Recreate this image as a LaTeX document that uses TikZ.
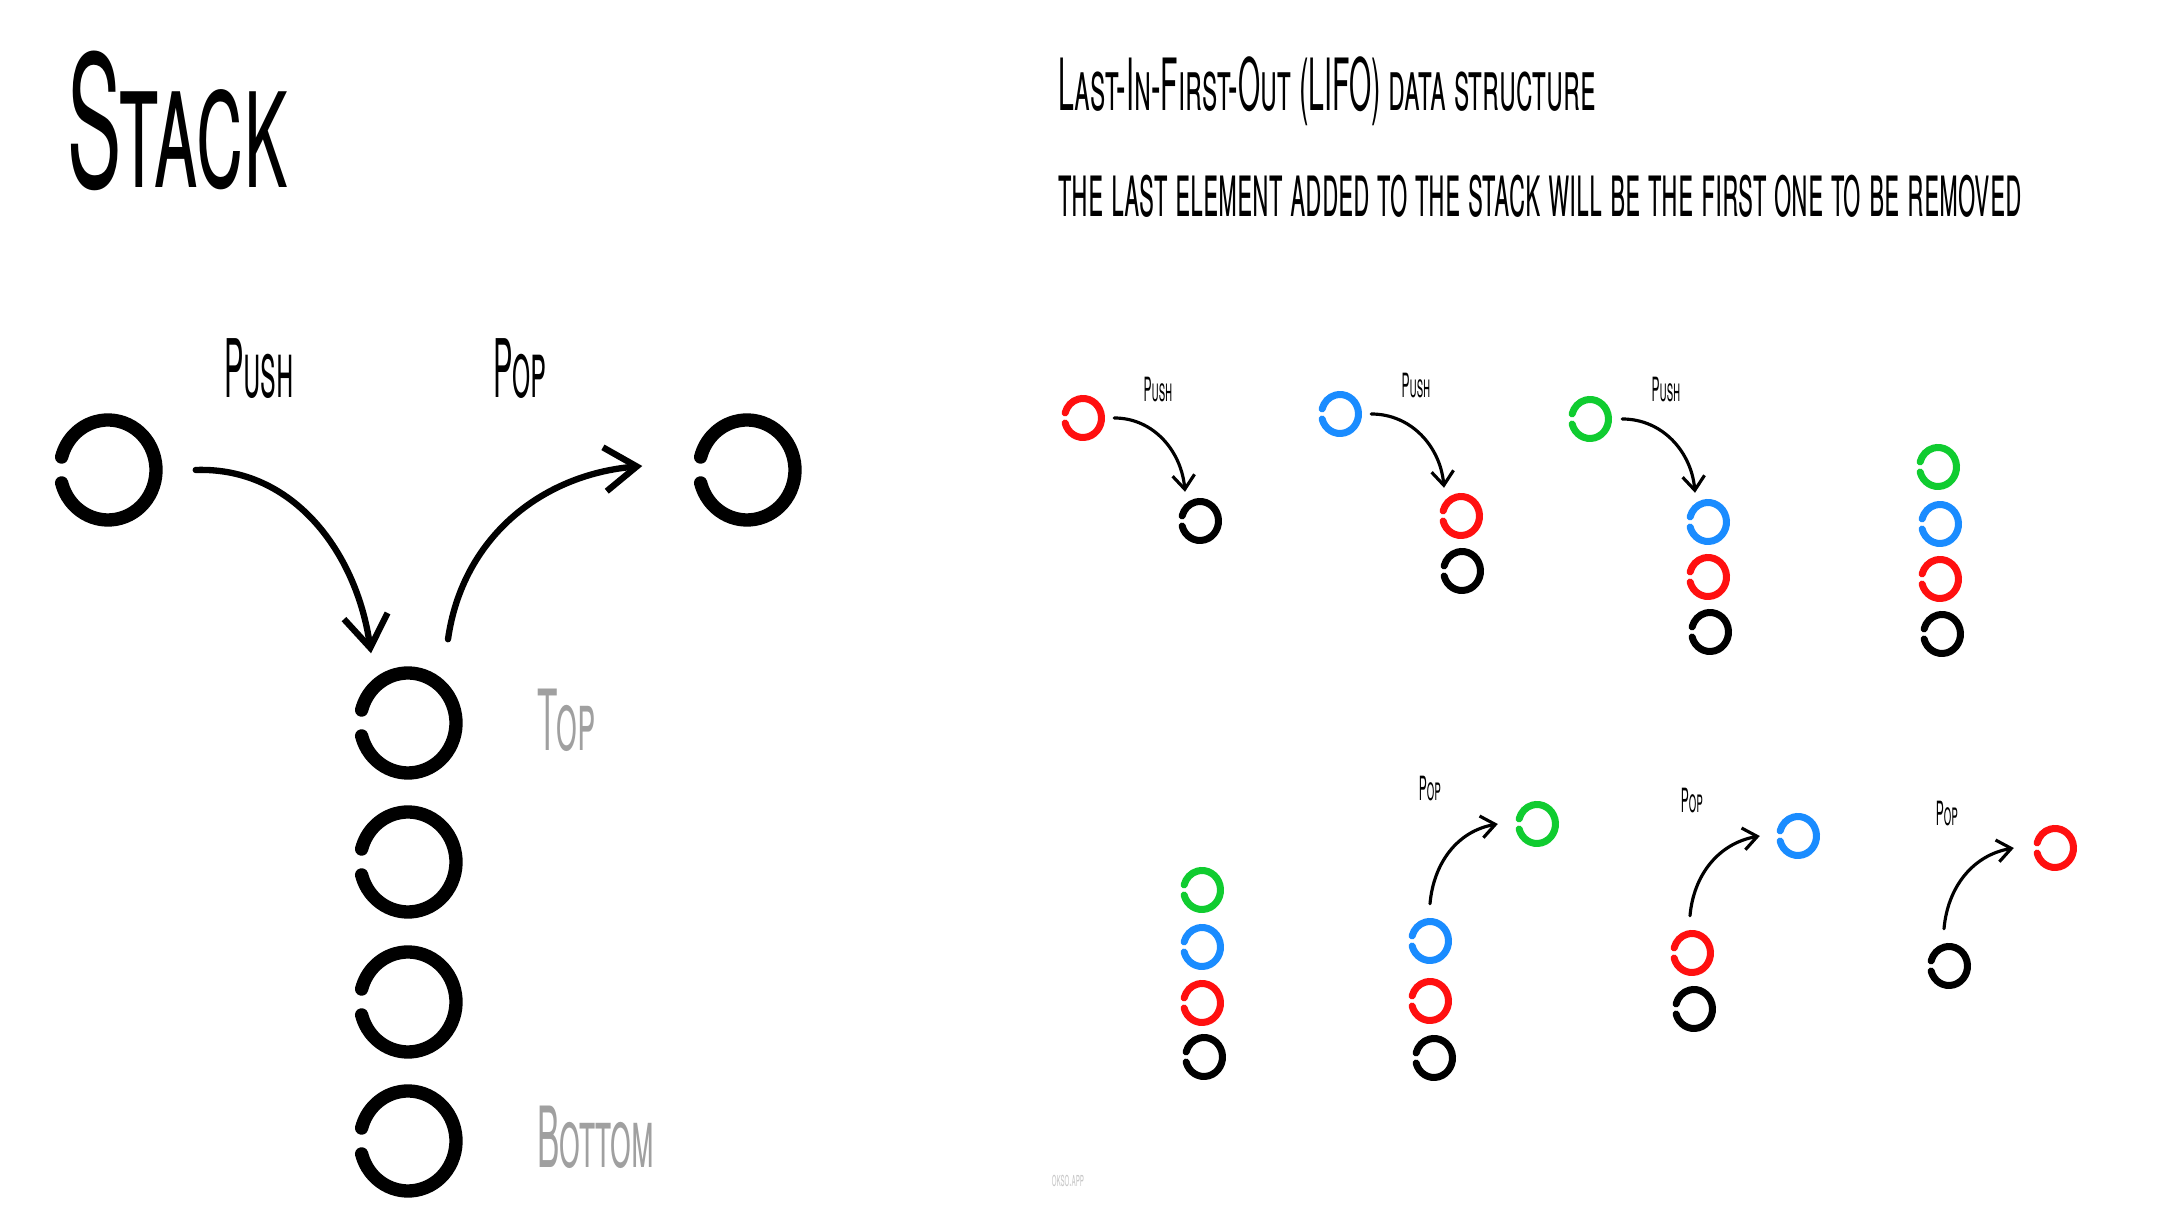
\documentclass[tikz,border=0pt]{standalone}
\usepackage{fontspec}
\setmainfont{TeX Gyre Heros}[FakeStretch=0.36]
\newfontfamily\titlefont{TeX Gyre Heros}[FakeStretch=0.445]
\newfontfamily\headfont{TeX Gyre Heros}[FakeStretch=0.395]
\usepackage{tikz}
\usetikzlibrary{arrows.meta,calc,positioning}
\definecolor{Ink}{HTML}{000000}
\definecolor{Red}{HTML}{FF1010}
\definecolor{Blue}{HTML}{1A8CFF}
\definecolor{Green}{HTML}{10CC30}
\definecolor{Ash}{HTML}{A0A0A0}
\definecolor{Fog}{HTML}{C8C8C8}

\tikzset{
  bigring/.style={inner sep=0pt,minimum width=0.96cm,minimum height=1.0cm,
    append after command={\pgfextra{\draw[Ink,line width=3.8pt,line cap=round]
      (\tikzlastnode.center) ++(195:0.48cm and 0.50cm)
      arc[start angle=195,end angle=525,x radius=0.48cm,y radius=0.50cm];}}},
  ring/.style={inner sep=0pt,minimum width=0.37cm,minimum height=0.39cm,
    append after command={\pgfextra{\draw[#1,line width=2pt,line cap=round]
      (\tikzlastnode.center) ++(195:0.185cm and 0.195cm)
      arc[start angle=195,end angle=525,x radius=0.185cm,y radius=0.195cm];}}},
  ring/.default=Ink,
  bigarrow/.style={line width=1.8pt,line cap=round,-{Straight Barb[length=3.2mm,width=4.4mm]}},
  arrow/.style={line width=0.9pt,line cap=round,-{Straight Barb[length=1.4mm,width=2.2mm]}},
  biglabel/.style={anchor=center,font=\fontsize{23}{27}\selectfont\scshape},
  graylabel/.style={anchor=base west,text=Ash,font=\headfont\fontsize{24}{28}\selectfont\scshape},
  smalllabel/.style={anchor=center,font=\fontsize{9.5}{11}\selectfont\scshape},
}

\begin{document}
\begin{tikzpicture}[x=1cm,y=1cm]
    \useasboundingbox (0,0) rectangle (21.81,12.18);
    \fill[white] (0,0) rectangle (21.81,12.18);

    % left: the idea
    \node[anchor=base west,font=\titlefont\fontsize{52}{60}\selectfont\scshape] (title) at (0.55,10.30) {Stack};
    \node[bigring] (src) at (1.08,7.48) {};
    \node[bigring] (out) at (7.47,7.48) {};
    \node[bigring] (s1) at (4.08,4.95) {};
    \node[bigring] (s2) at (4.08,3.56) {};
    \node[bigring] (s3) at (4.08,2.16) {};
    \node[bigring] (s4) at (4.08,0.77) {};
    \node[biglabel] (pushlbl) at (2.59,8.49) {Push};
    \node[biglabel] (poplbl) at (5.20,8.49) {Pop};
    \node[graylabel] (toplbl) at (5.25,4.67) {Top};
    \node[graylabel] (botlbl) at (5.25,0.50) {Bottom};
    \draw[bigarrow] ([xshift=3.9mm]src.east) to[out=2,in=98] ([xshift=-3.7mm,yshift=1.9mm]s1.north);
    \draw[bigarrow] ([xshift=4mm,yshift=3.3mm]s1.north) to[out=82,in=185] ([xshift=-5.6mm,yshift=0.4mm]out.west);

    % right: headings
    \node[anchor=base west,font=\headfont\fontsize{20.5}{24}\selectfont\scshape] (lifo) at (10.46,11.07) {Last-In-First-Out (LIFO) data structure};
    \node[anchor=base west,font=\fontsize{22}{26}\selectfont\scshape] (rule) at (10.46,10.01) {the last element added to the stack will be the first one to be removed};

    % push steps
    \node[ring=Red] (a1) at (10.83,8.00) {};
    \node[ring] (a0) at (12.00,6.97) {};
    \node[smalllabel] (apush) at (11.58,8.28) {Push};
    \draw[arrow] ([xshift=1.2mm]a1.east) to[out=0,in=95] ([xshift=-1.5mm,yshift=0.9mm]a0.north);

    \node[ring=Blue] (b2) at (13.40,8.04) {};
    \node[ring=Red] (b1) at (14.61,7.02) {};
    \node[ring] (b0) at (14.62,6.47) {};
    \node[smalllabel] (bpush) at (14.16,8.32) {Push};
    \draw[arrow] ([xshift=1.2mm]b2.east) to[out=0,in=95] ([xshift=-1.7mm,yshift=0.8mm]b1.north);

    \node[ring=Green] (c3) at (15.90,7.99) {};
    \node[ring=Blue] (c2) at (17.08,6.96) {};
    \node[ring=Red] (c1) at (17.08,6.41) {};
    \node[ring] (c0) at (17.10,5.86) {};
    \node[smalllabel] (cpush) at (16.66,8.28) {Push};
    \draw[arrow] ([xshift=1.3mm]c3.east) to[out=0,in=95] ([xshift=-1.3mm,yshift=0.9mm]c2.north);

    \node[ring=Green] (d3) at (19.38,7.51) {};
    \node[ring=Blue] (d2) at (19.40,6.94) {};
    \node[ring=Red] (d1) at (19.40,6.39) {};
    \node[ring] (d0) at (19.42,5.84) {};

    % pop steps
    \node[ring=Green] (e3) at (12.02,3.28) {};
    \node[ring=Blue] (e2) at (12.02,2.71) {};
    \node[ring=Red] (e1) at (12.02,2.15) {};
    \node[ring] (e0) at (12.04,1.61) {};

    \node[ring=Green] (f3) at (15.37,3.94) {};
    \node[ring=Blue] (f2) at (14.30,2.77) {};
    \node[ring=Red] (f1) at (14.30,2.17) {};
    \node[ring] (f0) at (14.34,1.60) {};
    \node[smalllabel] (fpop) at (14.30,4.29) {Pop};
    \draw[arrow] ([yshift=1.7mm]f2.north) to[out=85,in=190] ([xshift=-2mm]f3.west);

    \node[ring=Blue] (g2) at (17.98,3.82) {};
    \node[ring=Red] (g1) at (16.92,2.65) {};
    \node[ring] (g0) at (16.94,2.09) {};
    \node[smalllabel] (gpop) at (16.92,4.17) {Pop};
    \draw[arrow] ([xshift=-0.2mm,yshift=1.7mm]g1.north) to[out=85,in=190] ([xshift=-1.9mm]g2.west);

    \node[ring=Red] (h1) at (20.55,3.70) {};
    \node[ring] (h0) at (19.49,2.52) {};
    \node[smalllabel] (hpop) at (19.47,4.04) {Pop};
    \draw[arrow] ([xshift=-0.5mm,yshift=1.7mm]h0.north) to[out=85,in=190] ([xshift=-2.2mm]h1.west);

    \node[text=Fog,font=\fontsize{6}{7}\selectfont\scshape] (credit) at (10.68,0.37) {okso.app};
  \end{tikzpicture}
\end{document}
